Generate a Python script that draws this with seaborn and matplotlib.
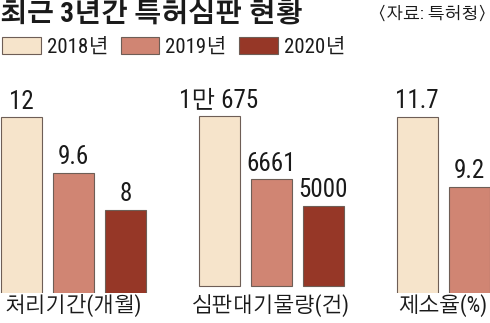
import matplotlib
matplotlib.use('Agg')
import matplotlib.pyplot as plt
import seaborn as sns
import pandas as pd
from matplotlib.patches import Patch

# ---------------- data ----------------
years = ['2018년', '2019년', '2020년']
categories = ['처리기간(개월)', '심판대기물량(건)', '제소율(%)']
processing_months = [12, 9.6, 8]
pending_cases = [10675, 6661, 5000]
appeal_rate = [11.7, 9.2]
label_processing = ['12', '9.6', '8']
label_pending = ['1만 675', '6661', '5000']
label_appeal = ['11.7', '9.2']
title = '최근 3년간 특허심판 현황'
source = '〈자료: 특허청〉'

# ---------------- style ----------------
colors = ['#F6E4CB', '#D08573', '#963727']
edge = '#6e5e56'
sns.set_theme(style='white')
FAM = ['Roboto Condensed', 'Gothic A1', 'Noto Sans CJK KR', 'DejaVu Sans']
plt.rcParams['font.family'] = FAM
plt.rcParams['text.color'] = '#1a1a1a'

W, H = 490, 323
fig = plt.figure(figsize=(W / 100, H / 100), dpi=100)
fig.patch.set_facecolor('white')

base_y = 293      # pixel row of bar bottoms
top_y = 100       # pixel row of axes top
# (left px, width px, xlim, ylim)
layouts = [
    (0, 152, (-0.41, 2.5), (4.4, 12.75)),
    (193, 156.5, (-0.5, 2.5), (-470, 11650)),
    (391, 99, (-0.5, 1.4), (5.4, 12.3)),
]
series = [processing_months, pending_cases, appeal_rate]
labels = [label_processing, label_pending, label_appeal]
palette = dict(zip(years, colors))

for (left, width, xl, yl), vals, labs, cat in zip(layouts, series, labels, categories):
    ax = fig.add_axes([left / W, (H - base_y) / H, width / W, (base_y - top_y) / H])
    df = pd.DataFrame({'year': years[:len(vals)], 'value': vals})
    sns.barplot(data=df, x='year', y='value', hue='year', order=years,
                hue_order=years, palette=palette, dodge=False, width=0.785,
                saturation=1, edgecolor=edge, linewidth=0.8, legend=False, ax=ax)
    ax.set_xlim(*xl)
    ax.set_ylim(*yl)
    ax.set_axis_off()
    bars = sorted([p for p in ax.patches if p.get_height() > 0], key=lambda p: p.get_x())
    for p, t in zip(bars, labs):
        ax.annotate(t, xy=(p.get_x() + p.get_width() / 2, p.get_height()),
                    xytext=(0, 2.5), textcoords='offset points',
                    ha='center', va='bottom', fontsize=18)
    cx = sum(p.get_x() + p.get_width() / 2 for p in bars) / len(bars)
    ax.annotate(cat, xy=(cx, 0), xycoords=('data', 'axes fraction'),
                xytext=(0, -1), textcoords='offset points',
                ha='center', va='top', fontsize=15.5)

# title and source
fig.text(0, 1 - 0.5 / H, title, fontsize=19.5, fontweight='bold',
         ha='left', va='top')
fig.text(487 / W, 1 - 14 / H, source, fontsize=12.5, ha='right', va='center')

# legend
handles = [Patch(facecolor=c, edgecolor=edge, linewidth=0.8, label=y)
           for c, y in zip(colors, years)]
fig.legend(handles=handles, loc='upper left', bbox_to_anchor=(2 / W, 1 - 37 / H),
           ncol=3, frameon=False, fontsize=15, handlelength=1.85,
           handleheight=0.85, handletextpad=0.3, columnspacing=0.6,
           borderpad=0, borderaxespad=0)

fig.savefig('out.png', dpi=100, facecolor='white')
